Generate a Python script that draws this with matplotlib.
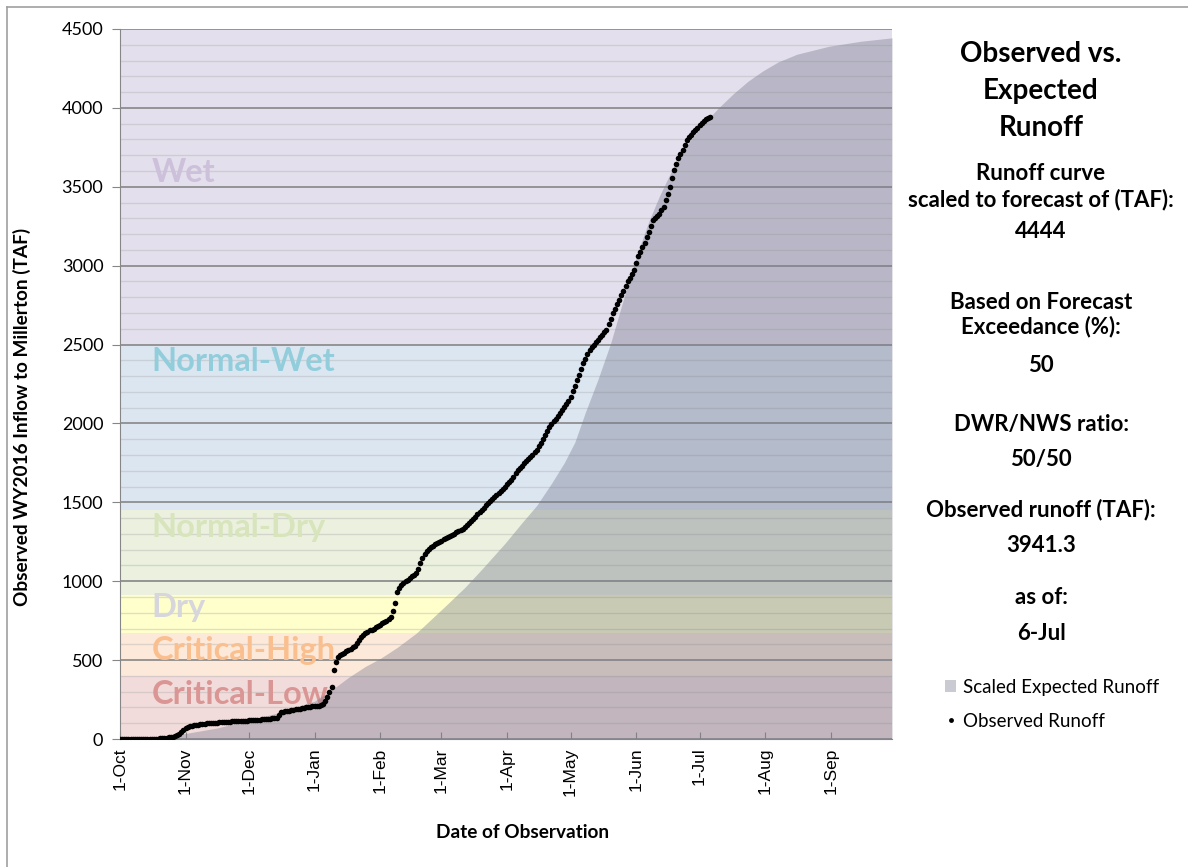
import matplotlib
matplotlib.use("Agg")
import matplotlib.pyplot as plt
from matplotlib.patches import Patch
from matplotlib.lines import Line2D

plt.rcParams['font.family'] = ['Lato', 'DejaVu Sans']

# day 0 = 1-Oct-2015, water year 2016 (leap year)
month_days = [0, 31, 61, 92, 123, 152, 183, 213, 244, 274, 305, 336]
month_labels = ['1-Oct', '1-Nov', '1-Dec', '1-Jan', '1-Feb', '1-Mar',
                '1-Apr', '1-May', '1-Jun', '1-Jul', '1-Aug', '1-Sep']

# observed runoff (TAF), one value per day, 1-Oct .. 6-Jul
obs_oct = [0, 0, 0, 0, 0, 0, 0, 0, 0, 0, 0, 0, 0, 0, 0, 0,
           1, 2, 3, 4, 5, 7, 9, 11, 13, 15, 19, 25, 33, 42, 55]
obs_nov = [70, 76, 80, 84, 87, 89, 91, 93, 95, 97, 99, 100, 101, 102, 103,
           104, 105, 106, 107, 108, 109, 110, 111, 112, 112, 113, 114, 115, 116, 117]
obs_dec = [118, 119, 120, 121, 122, 123, 124, 125, 126, 127, 129, 131, 133, 136, 150,
           170, 173, 176, 178, 180, 183, 185, 187, 189, 192, 195, 198, 200, 203, 205, 206]
obs_jan = [207, 208, 210, 215, 225, 240, 265, 300, 331, 437, 490, 520, 532, 540, 548,
           556, 564, 572, 580, 590, 610, 627, 645, 660, 672, 680, 688, 694, 700, 708, 716]
obs_feb = [725, 733, 741, 750, 760, 773, 810, 862, 932, 955, 975, 989, 1000, 1010, 1020,
           1030, 1040, 1052, 1080, 1115, 1147, 1170, 1190, 1205, 1217, 1226, 1234, 1242, 1250]
obs_mar = [1258, 1265, 1272, 1280, 1287, 1295, 1302, 1310, 1318, 1326, 1334, 1343, 1355,
           1368, 1381, 1395, 1409, 1423, 1437, 1451, 1466, 1481, 1496, 1510, 1522, 1535,
           1547, 1559, 1572, 1586, 1600]
obs_apr = [1614, 1628, 1641, 1660, 1683, 1705, 1719, 1733, 1747, 1760, 1774, 1788, 1802,
           1816, 1831, 1854, 1877, 1900, 1925, 1951, 1977, 1995, 2013, 2031, 2050, 2068,
           2086, 2104, 2122, 2140]
obs_may = [2170, 2205, 2240, 2275, 2310, 2345, 2380, 2408, 2437, 2465, 2482, 2498, 2514,
           2530, 2546, 2561, 2577, 2592, 2628, 2664, 2700, 2727, 2755, 2782, 2812, 2841,
           2871, 2900, 2924, 2948, 2972]
obs_jun = [3016, 3060, 3088, 3116, 3143, 3179, 3214, 3250, 3289, 3303, 3316, 3330, 3350,
           3371, 3414, 3457, 3500, 3553, 3606, 3643, 3680, 3707, 3733, 3765, 3796, 3813,
           3830, 3845, 3860, 3875]
obs_jul = [3890, 3905, 3918, 3927, 3935, 3941.3]

# scaled expected runoff curve (TAF)
exp_days = [0, 15, 31, 46, 61, 76, 92, 100, 108, 116, 123, 131, 140, 152, 163, 172, 182,
            190, 197, 204, 210, 215, 220, 226, 232, 237, 241, 246, 250, 255, 260, 265,
            270, 276, 283, 290, 297, 304, 311, 320, 335, 350, 365]
exp_vals = [0, 10, 35, 70, 120, 170, 240, 310, 390, 460, 510, 580, 670, 820, 960, 1090,
            1240, 1370, 1480, 1620, 1750, 1880, 2070, 2280, 2510, 2740, 2920, 3130, 3280,
            3440, 3580, 3700, 3800, 3900, 4000, 4090, 4170, 4235, 4290, 4340, 4390, 4422, 4444]

# year-type bands (TAF)
band_names = ['Critical-Low', 'Critical-High', 'Dry', 'Normal-Dry', 'Normal-Wet', 'Wet']
band_lo = [0, 400, 670, 910, 1450, 2500]
band_hi = [400, 670, 910, 1450, 2500, 4500]
band_fill = ['#F2DCDB', '#FDE9D9', '#FFFFCC', '#EBF1DE', '#DCE6F1', '#E4DFEC']
band_text = ['#DA9694', '#FABF8F', '#D6D6DC', '#D7E4BC', '#92CDDC', '#CCC0DA']
band_label_y = [285, 564, 836, 1343, 2395, 3593]

observed = obs_oct + obs_nov + obs_dec + obs_jan + obs_feb + obs_mar + obs_apr + obs_may + obs_jun + obs_jul
obs_days = list(range(len(observed)))

fig = plt.figure(figsize=(11.88, 8.67), dpi=100)
ax = fig.add_axes([120 / 1188, 1 - 739 / 867, (892 - 120) / 1188, (739 - 29) / 867])

for lo, hi, c in zip(band_lo, band_hi, band_fill):
    ax.axhspan(lo, hi, color=c, lw=0, zorder=0)
for name, y, c in zip(band_names, band_label_y, band_text):
    ax.text(15, y, name, color=c, fontsize=23.5, fontweight='bold', va='center', ha='left', zorder=1.5)

ax.fill_between(exp_days, 0, exp_vals, color='#7A7C90', alpha=0.4, lw=0, zorder=2)
ax.plot(obs_days, observed, 'o', color='black', ms=4, mew=0, zorder=3)

ax.set_xlim(0, 365)
ax.set_ylim(0, 4500)
ax.set_yticks(range(0, 4501, 500))
ax.set_yticks(range(0, 4501, 100), minor=True)
ax.set_xticks(month_days)
ax.set_xticklabels(month_labels, rotation=90, fontsize=12.5, family=['Liberation Sans'])
ax.set_axisbelow(True)
ax.grid(which='major', axis='y', color='#868686', lw=1.2)
ax.grid(which='minor', axis='y', color='#A6A6A6', lw=1.0, alpha=0.35)
ax.tick_params(axis='y', which='major', length=6, color='#868686', labelsize=13, pad=6)
ax.tick_params(axis='y', which='minor', length=0)
ax.tick_params(axis='x', direction='in', length=5, color='#868686', pad=6)
for s in ['top', 'right']:
    ax.spines[s].set_visible(False)
for s in ['left', 'bottom']:
    ax.spines[s].set_color('#868686')

fig.text(22 / 1188, 1 - 417 / 867, 'Observed WY2016 Inflow to Millerton (TAF)', rotation=90,
         ha='center', va='center', fontsize=13.7, fontweight='bold')
fig.text(523 / 1188, 1 - 833 / 867, 'Date of Observation', ha='center', va='center',
         fontsize=13.7, fontweight='bold')

# side panel
cx = 1041 / 1188
for txt, y in [('Observed vs.', 54), ('Expected', 91), ('Runoff', 128)]:
    fig.text(cx, 1 - y / 867, txt, ha='center', va='center', fontsize=20, fontweight='bold')
side_lines = [('Runoff curve', 174), ('scaled to forecast of (TAF):', 200), ('4444', 231),
              ('Based on Forecast', 302), ('Exceedance (%):', 327), ('50', 366),
              ('DWR/NWS ratio:', 424), ('50/50', 460),
              ('Observed runoff (TAF):', 510), ('3941.3', 545),
              ('as of:', 598), ('6-Jul', 634)]
for txt, y in side_lines:
    fig.text(cx, 1 - y / 867, txt, ha='center', va='center', fontsize=16, fontweight='bold')

handles = [Patch(facecolor='#7A7C90', alpha=0.4, lw=0),
           Line2D([], [], ls='none', marker='o', ms=3.5, mew=0, color='black')]
fig.legend(handles, ['Scaled Expected Runoff', 'Observed Runoff'], loc='upper left',
           bbox_to_anchor=(928 / 1188, 1 - 662 / 867), frameon=False, fontsize=13.5,
           handlelength=0.6, handleheight=0.6, handletextpad=0.35, labelspacing=0.9)

# outer chart border (left and top edges visible)
fig.add_artist(Line2D([7 / 1188, 7 / 1188], [0, 1 - 7 / 867], color='#A0A0A0', lw=1.2))
fig.add_artist(Line2D([7 / 1188, 1], [1 - 7 / 867, 1 - 7 / 867], color='#A0A0A0', lw=1.2))

fig.savefig('out.png', dpi=100)
